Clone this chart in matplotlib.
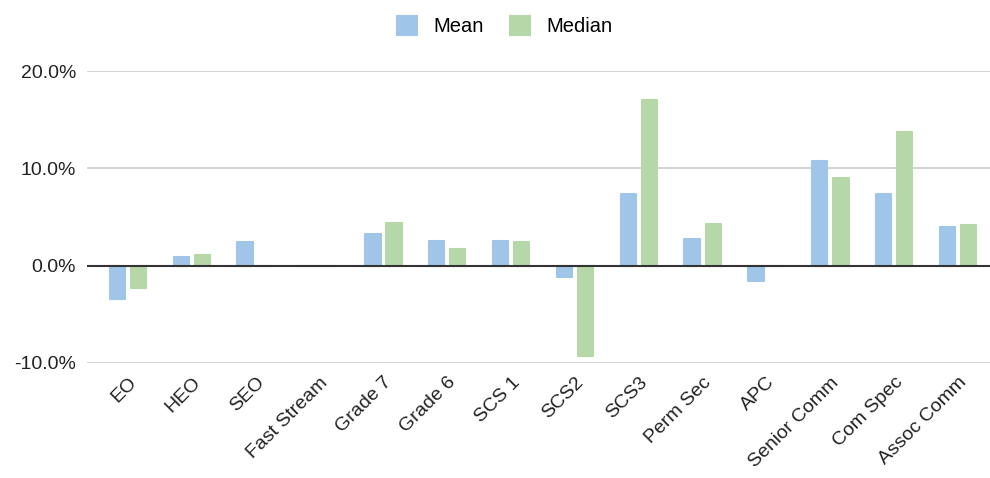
import numpy as np
import matplotlib.pyplot as plt

plt.rcParams['font.family'] = ['Liberation Sans', 'DejaVu Sans']

grades = ['EO', 'HEO', 'SEO', 'Fast Stream', 'Grade 7', 'Grade 6', 'SCS 1',
          'SCS2', 'SCS3', 'Perm Sec', 'APC', 'Senior Comm', 'Com Spec', 'Assoc Comm']
mean_gap = [-3.4, 0.9, 2.4, 0.0, 3.3, 2.55, 2.55, -1.2, 7.4, 2.7, -1.6, 10.8, 7.4, 4.0]
median_gap = [-2.3, 1.1, 0.0, 0.0, 4.4, 1.7, 2.4, -9.3, 17.0, 4.3, 0.0, 9.0, 13.7, 4.15]

blue = '#9fc5e8'
green = '#b6d7a8'

fig = plt.figure(figsize=(9.9, 4.78), dpi=100)
ax = fig.add_axes([0.088, 0.241, 0.912, 0.610])

x = np.arange(len(grades))
w = 0.24
ax.bar(x - 0.165, mean_gap, w, color=blue, edgecolor=blue, linewidth=1.5,
       joinstyle='round', label='Mean', zorder=3)
ax.bar(x + 0.165, median_gap, w, color=green, edgecolor=green, linewidth=1.5,
       joinstyle='round', label='Median', zorder=3)

ax.set_ylim(-10, 20)
ax.set_xlim(-0.64, 13.5)
ax.set_yticks([-10, 0, 10, 20])
ax.set_yticklabels(['-10.0%', '0.0%', '10.0%', '20.0%'], fontsize=14, color='#222222')
ax.yaxis.grid(True, color='#cccccc', linewidth=1.2, zorder=0)
ax.axhline(0, color='#333333', linewidth=1.5, zorder=4)

ax.set_xticks(x)
ax.set_xticklabels(grades, rotation=45, ha='right', va='top', rotation_mode='anchor',
                   fontsize=14, color='#222222')
ax.tick_params(axis='y', length=0, pad=8)
ax.tick_params(axis='x', length=0, pad=8)
for s in ax.spines.values():
    s.set_visible(False)

fig.legend(loc='upper center', bbox_to_anchor=(0.51, 1.005), ncol=2, frameon=False,
           fontsize=14.5, handlelength=1.0, handleheight=1.1, handletextpad=0.8,
           columnspacing=1.3)

fig.savefig('out.png', dpi=100)
